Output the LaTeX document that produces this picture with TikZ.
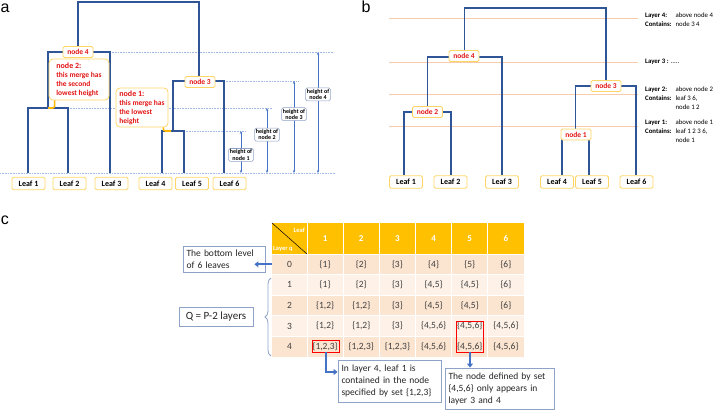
\documentclass[tikz,border=0pt]{standalone}
\usepackage{fontspec}
\setmainfont{Carlito}
\newfontfamily\panelfont{Liberation Sans}
\usetikzlibrary{arrows.meta,decorations.pathreplacing}
\definecolor{dendblue}{RGB}{47,85,151}
\definecolor{arrowblue}{RGB}{68,114,196}
\definecolor{labelyellow}{RGB}{255,214,102}
\definecolor{hookorange}{RGB}{255,184,0}
\definecolor{nodered}{RGB}{226,20,20}
\definecolor{layerorange}{RGB}{248,203,173}
\definecolor{dotblue}{RGB}{160,185,230}
\definecolor{notegray}{RGB}{143,163,200}
\definecolor{tablegold}{RGB}{255,192,0}
\definecolor{rowdark}{RGB}{251,228,208}
\definecolor{rowlight}{RGB}{253,241,232}
\definecolor{celltext}{RGB}{64,64,64}

\tikzset{
  panel/.style={font=\panelfont\fontsize{16}{16}\selectfont, inner sep=0pt},
  dend/.style={draw=dendblue, line width=1.3pt},
  guide/.style={draw=dotblue, line width=0.6pt, dash pattern=on 0.8pt off 0.8pt},
  layerline/.style={draw=layerorange, line width=0.8pt},
  nodelabel/.style={draw=labelyellow, fill=white, line width=0.8pt, rounded corners=1.5pt, text=nodered,
    font=\fontsize{7.5}{8}\selectfont\bfseries, inner sep=1pt, minimum width=30pt, minimum height=11pt},
  leaf/.style={draw=labelyellow, fill=white, line width=0.8pt, rounded corners=1.5pt,
    font=\fontsize{8}{9}\selectfont\bfseries, inner sep=1pt, minimum width=33pt, minimum height=12.5pt},
  callout/.style={draw=labelyellow, fill=white, line width=0.8pt, rounded corners=4pt, text=nodered,
    font=\fontsize{7.5}{9}\selectfont\bfseries, align=left, inner sep=2pt},
  hook/.style={draw=hookorange, line width=1.6pt, rounded corners=2pt},
  harrow/.style={draw=arrowblue, line width=0.6pt, <->, >={Stealth[length=3pt,width=2.4pt]}},
  hlabel/.style={draw=notegray, fill=white, line width=0.6pt, rounded corners=1.5pt,
    font=\fontsize{6}{6.3}\selectfont\bfseries, align=center, inner sep=1.2pt},
  layertxt/.style={font=\fontsize{6.8}{9}\selectfont, anchor=north west, inner sep=0pt},
  cell/.style={font=\fontsize{9.5}{11}\selectfont, text=celltext, minimum width=35pt, inner sep=0pt},
  headtxt/.style={font=\fontsize{9}{10}\selectfont\bfseries, text=white, inner sep=0pt},
  redbox/.style={draw=red, line width=0.8pt, minimum width=27pt, minimum height=12pt, inner sep=0pt},
  note/.style={draw=notegray, fill=white, line width=0.9pt, font=\fontsize{9.5}{12}\selectfont,
    align=left, inner sep=3.5pt, text=black!85},
  notearrow/.style={draw=arrowblue, line width=2pt, ->, >={Triangle[length=4pt,width=6pt]}},
  brace/.style={draw=notegray, line width=0.8pt, decorate, decoration={brace, amplitude=6pt}}
}

% one layer of the table: fill colour, layer q, six sets
\newcommand{\layerrow}[8]{%
  \pgfmathsetmacro{\rowy}{264.3+20.6*#2}
  \fill[#1] (272,\rowy-10.3) rectangle (524,\rowy+10.3);
  \node[cell] (q#2) at (289.5,\rowy) {#2};
  \node[cell] (s#2-1) at (325.1,\rowy) {\{#3\}};
  \node[cell] (s#2-2) at (361.3,\rowy) {\{#4\}};
  \node[cell] (s#2-3) at (397.4,\rowy) {\{#5\}};
  \node[cell] (s#2-4) at (433.6,\rowy) {\{#6\}};
  \node[cell] (s#2-5) at (469.8,\rowy) {\{#7\}};
  \node[cell] (s#2-6) at (505.9,\rowy) {\{#8\}};
}

\begin{document}
\begin{tikzpicture}[x=1pt,y=-1pt]
\useasboundingbox (0,0) rectangle (720,410);

% ---------------- panel a ----------------
\node[panel] (pa) at (5,8) {a};

\draw[guide] (0,173) -- (335,173);
\draw[guide] (110,52) -- (334,52);
\draw[guide] (224,81) -- (298,81);
\draw[guide] (68,108) -- (272,108);
\draw[guide] (184,131) -- (245,131);

\coordinate (a1) at (173,131);
\coordinate (a2) at (48,108);
\coordinate (a3) at (199,81);
\coordinate (a4) at (78,52);
\coordinate (a5) at (138.5,2);
\coordinate (al1) at (28,173);
\coordinate (al2) at (68,173);
\coordinate (al3) at (110,173);
\coordinate (al4) at (162,173);
\coordinate (al5) at (184,173);
\coordinate (al6) at (224,173);

\draw[dend] (al1) |- (a2) -| (al2);
\draw[dend] (a2) |- (a4) -| (al3);
\draw[dend] (al4) |- (a1) -| (al5);
\draw[dend] (a1) |- (a3) -| (al6);
\draw[dend] (a4) |- (a5) -| (a3);

\node[nodelabel] (n4a) at (78,52) {node 4};
\node[nodelabel] (n3a) at (200,82) {node 3};

\node[leaf] (la1) at (28.5,183.5) {Leaf 1};
\node[leaf] (la2) at (69.5,183.5) {Leaf 2};
\node[leaf] (la3) at (111.5,183.5) {Leaf 3};
\node[leaf] (la4) at (155.5,183.5) {Leaf 4};
\node[leaf] (la5) at (192,183.5) {Leaf 5};
\node[leaf] (la6) at (229.5,183.5) {Leaf 6};

\node[callout, minimum width=60pt, minimum height=41pt] (c2) at (79,79.5)
  {{\fontsize{8}{9}\selectfont node 2:}\\this merge has\\the second\\lowest height};
\node[callout, minimum width=52pt, minimum height=39pt] (c1) at (142,107.5)
  {{\fontsize{8}{9}\selectfont node 1:}\\this merge has\\the lowest\\height};
\draw[hook] ([xshift=6pt]c2.south west) |- (a2);
\draw[hook] ([xshift=-5pt]c1.south east) |- ([xshift=-2pt]a1);

\draw[harrow] (241,131) -- node[hlabel,pos=0.57] {height of\\node 1} (241,173);
\draw[harrow] (267,108) -- node[hlabel,pos=0.41] {height of\\node 2} (267,173);
\draw[harrow] (294,81) -- node[hlabel,pos=0.36] {height of\\node 3} (294,173);
\draw[harrow] (318,52) -- node[hlabel,pos=0.35] {height of\\node 4} (318,173);

% ---------------- panel b ----------------
\node[panel] (pb) at (366,7) {b};

\foreach \y in {18,62,94,126}
  \draw[layerline] (389,\y) -- (638,\y);

\coordinate (b1) at (575.5,134);
\coordinate (b2) at (427.5,112);
\coordinate (b3) at (606,86);
\coordinate (b4) at (464.5,57);
\coordinate (b5) at (535,8);
\coordinate (bl1) at (404,175);
\coordinate (bl2) at (451,175);
\coordinate (bl3) at (502,175);
\coordinate (bl4) at (562,175);
\coordinate (bl5) at (589,175);
\coordinate (bl6) at (636,175);

\draw[dend] (bl1) |- (b2) -| (bl2);
\draw[dend] (b2) |- (b4) -| (bl3);
\draw[dend] (bl4) |- (b1) -| (bl5);
\draw[dend] (b1) |- (b3) -| (bl6);
\draw[dend] (b4) |- (b5) -| (b3);

\node[nodelabel] (n4b) at (464,56) {node 4};
\node[nodelabel] (n2b) at (427.5,112) {node 2};
\node[nodelabel] (n3b) at (606,86) {node 3};
\node[nodelabel] (n1b) at (576,134.5) {node 1};

\node[leaf] (lb1) at (406,182) {Leaf 1};
\node[leaf] (lb2) at (450.5,182) {Leaf 2};
\node[leaf] (lb3) at (502,182) {Leaf 3};
\node[leaf] (lb4) at (557,182) {Leaf 4};
\node[leaf] (lb5) at (592,182) {Leaf 5};
\node[leaf] (lb6) at (636.5,182) {Leaf 6};

\node[layertxt] (t4) at (645,11) {\begin{tabular}{@{}l@{\hspace{4pt}}l@{}}
  \textbf{Layer 4:} & above node 4\\ \textbf{Contains:} & node 3 4\end{tabular}};
\node[layertxt] (t3) at (645,59) {\textbf{Layer 3 :} .....};
\node[layertxt] (t2) at (645,85) {\begin{tabular}{@{}l@{\hspace{4pt}}l@{}}
  \textbf{Layer 2:} & above node 2\\ \textbf{Contains:} & leaf 3 6,\\ & node 1 2\end{tabular}};
\node[layertxt] (t1) at (645,118) {\begin{tabular}{@{}l@{\hspace{4pt}}l@{}}
  \textbf{Layer 1:} & above node 1\\ \textbf{Contains:} & leaf 1 2 3 6,\\ & node 1\end{tabular}};

% ---------------- panel c ----------------
\node[panel] (pc) at (5,220) {c};

\fill[tablegold] (272,223) rectangle (524,254);
\draw[black, line width=0.5pt] (272,223) -- (307,254);
\node[headtxt, font=\fontsize{6.5}{7}\selectfont\bfseries, anchor=east] (hleaf) at (305,230) {Leaf};
\node[headtxt, font=\fontsize{6.5}{7}\selectfont\bfseries, anchor=west] (hlayer) at (273,248.5) {Layer q};
\foreach \i in {1,...,6}
  \node[headtxt] (h\i) at ({307+36.17*(\i-0.5)},238.5) {\i};

\layerrow{rowdark}{0}{1}{2}{3}{4}{5}{6}
\layerrow{rowlight}{1}{1}{2}{3}{4,5}{4,5}{6}
\layerrow{rowdark}{2}{1,2}{1,2}{3}{4,5}{4,5}{6}
\layerrow{rowlight}{3}{1,2}{1,2}{3}{4,5,6}{4,5,6}{4,5,6}
\layerrow{rowdark}{4}{1,2,3}{1,2,3}{1,2,3}{4,5,6}{4,5,6}{4,5,6}

\foreach \x in {307,343.17,379.33,415.5,451.67,487.83}
  \draw[white, line width=1pt] (\x,223) -- (\x,357);
\foreach \y in {254,274.6,295.2,315.8,336.4}
  \draw[white, line width=1pt] (272,\y) -- (524,\y);

\node[redbox] (sel1) at (325.5,346) {};
\node[redbox, minimum height=31pt] (sel2) at (470,336.5) {};

\node[note, text width=75pt] (bottom) at (224,259.5) {The bottom level\\of 6 leaves};
\node[note, text width=96pt, minimum height=42pt] (note1) at (389.5,381)
  {In layer 4, leaf 1 is\\contained in the node\\specified by set \{1,2,3\}};
\node[note, text width=102pt, minimum height=41pt] (note2) at (499.5,388.5)
  {The node defined by set\\\{4,5,6\} only appears in\\layer 3 and 4};
\node[note, align=center, font=\fontsize{11}{12}\selectfont, minimum width=74pt, minimum height=19pt] (qbox) at (216,316.5) {Q = P-2 layers};

\draw[notearrow] (q0.west) -- ([xshift=-11pt]bottom.east |- q0.west);
\draw[notearrow] (sel1.south) |- ([yshift=9pt]note1.west);
\draw[notearrow] (sel2.south) -- (sel2.south |- note2.north);
\draw[brace] (271,356) -- (271,278);

\end{tikzpicture}
\end{document}
